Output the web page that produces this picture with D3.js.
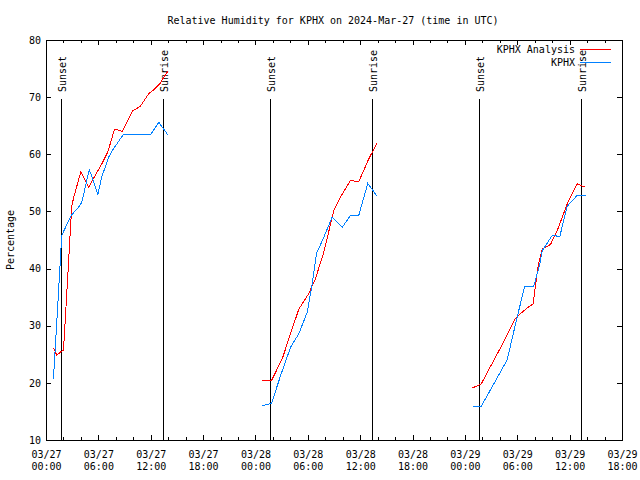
<!DOCTYPE html>
<html><head><meta charset="utf-8">
<script src="https://cdn.jsdelivr.net/npm/d3@7"></script>
<style>
html,body{margin:0;padding:0;background:#fff;}
svg{display:block;}
text{font-family:"DejaVu Sans Mono",monospace;font-size:10px;fill:#000;}
</style></head><body>
<svg id="chart" width="640" height="480"></svg>
<script>
// ---- chart data ----
const chartTitle = "Relative Humidity for KPHX on 2024-Mar-27 (time in UTC)";
const yAxisLabel = "Percentage";
const seriesNames = ["KPHX Analysis", "KPHX"];
const seriesColors = ["#ff0000", "#0080ff"];
const yTickValues = [10, 20, 30, 40, 50, 60, 70, 80];
const xDomain = ["2024-03-27 00:00", "2024-03-29 18:00"];
const sunsetTimes = ["2024-03-27 01:38", "2024-03-28 01:36", "2024-03-29 01:33"];
const sunriseTimes = ["2024-03-27 13:20", "2024-03-28 13:16", "2024-03-29 13:13"];

const analysisTimes = [
  "2024-03-27 00:41","2024-03-27 01:04","2024-03-27 01:34","2024-03-27 01:50","2024-03-27 02:47",
  "2024-03-27 03:01","2024-03-27 03:49","2024-03-27 04:42","2024-03-27 05:28","2024-03-27 06:13",
  "2024-03-27 06:55","2024-03-27 07:41","2024-03-27 08:34","2024-03-27 09:46","2024-03-27 10:39",
  "2024-03-27 11:36","2024-03-27 12:11","2024-03-27 12:52","2024-03-27 13:20","2024-03-27 13:47",
  "2024-03-28 00:38","2024-03-28 01:40","2024-03-28 02:54","2024-03-28 03:51","2024-03-28 04:48",
  "2024-03-28 05:56","2024-03-28 06:42","2024-03-28 07:40","2024-03-28 08:48","2024-03-28 09:34",
  "2024-03-28 10:43","2024-03-28 11:40","2024-03-28 12:49","2024-03-28 13:47",
  "2024-03-29 00:42","2024-03-29 01:42","2024-03-29 02:23","2024-03-29 03:08","2024-03-29 04:06",
  "2024-03-29 05:38","2024-03-29 06:12","2024-03-29 06:58","2024-03-29 07:39","2024-03-29 08:11",
  "2024-03-29 08:41","2024-03-29 09:38","2024-03-29 10:24","2024-03-29 11:33","2024-03-29 12:42",
  "2024-03-29 13:39"
];
const analysisValues = [
  26.2, 24.9, 25.6, 25.8, 51.1,
  52.6, 57.0, 54.3, 56.4, 58.4,
  60.5, 64.5, 64.1, 67.7, 68.5,
  70.7, 71.4, 72.4, 73.6, 74.6,
  20.5, 20.5, 24.3, 28.7, 33.0,
  35.7, 38.3, 43.0, 50.2, 52.6,
  55.5, 55.3, 59.3, 62.1,
  19.2, 19.9, 21.9, 24.0, 26.8,
  31.4, 32.2, 33.2, 33.9, 40.3,
  43.5, 44.3, 46.7, 51.4, 54.9,
  54.3
];

const obsTimes = [
  "2024-03-27 00:41","2024-03-27 01:09","2024-03-27 01:38","2024-03-27 02:43","2024-03-27 03:33",
  "2024-03-27 03:56","2024-03-27 04:47","2024-03-27 05:11","2024-03-27 05:46","2024-03-27 06:13",
  "2024-03-27 06:59","2024-03-27 07:27","2024-03-27 08:40","2024-03-27 11:48","2024-03-27 12:45",
  "2024-03-27 13:47",
  "2024-03-28 00:38","2024-03-28 01:40","2024-03-28 02:47","2024-03-28 03:51","2024-03-28 04:48",
  "2024-03-28 05:45","2024-03-28 06:20","2024-03-28 06:49","2024-03-28 07:40","2024-03-28 08:37",
  "2024-03-28 09:46","2024-03-28 10:43","2024-03-28 11:40","2024-03-28 12:42","2024-03-28 13:47",
  "2024-03-29 00:42","2024-03-29 01:42","2024-03-29 03:08","2024-03-29 04:40","2024-03-29 05:49",
  "2024-03-29 06:41","2024-03-29 07:43","2024-03-29 08:25","2024-03-29 08:41","2024-03-29 09:50",
  "2024-03-29 10:42","2024-03-29 11:33","2024-03-29 12:42","2024-03-29 13:39"
];
const obsValues = [
  20.8, 33.0, 45.9, 49.4, 50.8,
  51.7, 57.4, 55.8, 53.0, 56.1,
  59.5, 60.8, 63.5, 63.5, 65.7,
  63.5,
  16.1, 16.5, 21.7, 26.3, 28.7,
  32.4, 37.4, 42.7, 45.6, 49.1,
  47.3, 49.4, 49.4, 55.0, 52.7,
  16.0, 16.0, 19.9, 24.1, 31.6,
  37.0, 37.0, 40.9, 43.2, 45.9,
  45.7, 51.0, 52.9, 52.9
];

// ---- drawing ----
const parse = d3.utcParse("%Y-%m-%d %H:%M");
const svg = d3.select("#chart");
svg.append("rect").attr("width", 640).attr("height", 480).attr("fill", "#fff");

const x = d3.scaleUtc().domain(xDomain.map(parse)).range([47, 623]);
const y = d3.scaleLinear().domain([10, 80]).range([440, 40]);
const [L, R] = x.range(), [B, T] = y.range();

const majorTicks = d3.utcHour.every(6).range(x.domain()[0], d3.utcHour.offset(x.domain()[1], 1));
const minorTicks = d3.utcHour.every(2).range(x.domain()[0], x.domain()[1]).filter(d => d.getUTCHours() % 6 !== 0);

function styleAxis(g) {
  g.select(".domain").remove();
  g.selectAll(".tick text").remove();
  g.selectAll("line").attr("stroke", "#000").attr("shape-rendering", "crispEdges");
  g.attr("font-family", null).attr("font-size", null);
}

// bottom/top major & minor ticks
[[d3.axisBottom, B], [d3.axisTop, T]].forEach(([mk, pos]) => {
  svg.append("g").attr("transform", `translate(0,${pos})`)
    .call(mk(x).tickValues(majorTicks).tickSize(-5).tickFormat("").offset(-0.5))
    .call(styleAxis);
  svg.append("g").attr("transform", `translate(0,${pos})`)
    .call(mk(x).tickValues(minorTicks).tickSize(-3).tickFormat("").offset(-0.5))
    .call(styleAxis);
});

// x tick labels (two lines)
const fmtDate = d3.utcFormat("%m/%d"), fmtTime = d3.utcFormat("%H:%M");
const xl = svg.append("g").selectAll("text").data(majorTicks).join("text")
  .attr("text-anchor", "middle");
xl.append("tspan").attr("x", d => x(d) - 0.5).attr("y", B + 17.5).text(fmtDate);
xl.append("tspan").attr("x", d => x(d) - 0.5).attr("y", B + 29.5).text(fmtTime);

// y axes (ticks + labels)
svg.append("g").attr("transform", `translate(${L - 1},0)`)
  .call(d3.axisLeft(y).tickValues(yTickValues).tickSize(-5).tickFormat(""))
  .call(styleAxis);
svg.append("g").attr("transform", `translate(${R - 1},0)`)
  .call(d3.axisRight(y).tickValues(yTickValues).tickSize(-5).tickFormat(""))
  .call(styleAxis);
svg.append("g").selectAll("text").data(yTickValues).join("text")
  .attr("x", L - 6).attr("y", d => y(d) + 0.5).attr("dy", "0.32em")
  .attr("text-anchor", "end").text(d3.format("d"));

// frame
svg.append("rect").attr("x", L - 0.5).attr("y", T + 0.5).attr("width", R - L).attr("height", B - T)
  .attr("fill", "none").attr("stroke", "#000").attr("shape-rendering", "crispEdges");

// sunset / sunrise markers
const lineTop = B + (T - B) * 0.853;
const labelY = B + (T - B) * 0.87;
const sunEvents = sunsetTimes.map(t => ({ t: parse(t), name: "Sunset" }))
  .concat(sunriseTimes.map(t => ({ t: parse(t), name: "Sunrise" })));
const sg = svg.append("g");
sg.selectAll("line").data(sunEvents).join("line")
  .attr("x1", d => Math.floor(x(d.t)) + 0.5).attr("x2", d => Math.floor(x(d.t)) + 0.5)
  .attr("y1", lineTop).attr("y2", B)
  .attr("stroke", "#000").attr("shape-rendering", "crispEdges");
sg.selectAll("text").data(sunEvents).join("text")
  .attr("transform", d => `translate(${Math.floor(x(d.t)) + 4.5},${labelY}) rotate(-90)`)
  .attr("text-anchor", "start").text(d => d.name);

// data lines, broken at gaps between nights
function segments(times, values) {
  const pts = times.map((t, i) => ({ t: parse(t), v: values[i] }));
  const segs = [];
  pts.forEach((p, i) => {
    if (i === 0 || p.t - pts[i - 1].t > 4 * 3600e3) segs.push([]);
    segs[segs.length - 1].push(p);
  });
  return segs;
}
const line = d3.line().x(d => x(d.t) + 0.5).y(d => y(d.v) + 0.5);
[[analysisTimes, analysisValues], [obsTimes, obsValues]].forEach(([ts, vs], k) => {
  svg.append("g").selectAll("path").data(segments(ts, vs)).join("path")
    .attr("d", line).attr("fill", "none").attr("stroke", seriesColors[k])
    .attr("stroke-width", 1).attr("shape-rendering", "crispEdges");
});

// legend
const lg = svg.append("g");
seriesNames.forEach((name, i) => {
  const cy = 49.5 + i * 13;
  lg.append("text").attr("x", 575).attr("y", cy + 3.5).attr("text-anchor", "end").text(name);
  lg.append("line").attr("x1", 580).attr("x2", 611).attr("y1", cy).attr("y2", cy)
    .attr("stroke", seriesColors[i]).attr("shape-rendering", "crispEdges");
});

// title and y label
svg.append("text").attr("x", 333).attr("y", 23.5).attr("text-anchor", "middle").text(chartTitle);
svg.append("text").attr("transform", `translate(14,${(T + B) / 2}) rotate(-90)`)
  .attr("text-anchor", "middle").text(yAxisLabel);
</script>
</body></html>
